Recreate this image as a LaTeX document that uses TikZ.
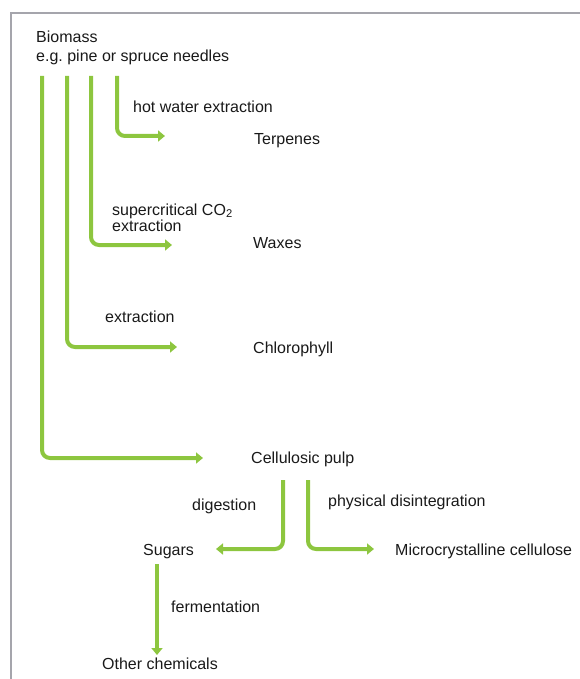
\documentclass[tikz,border=0pt]{standalone}
\usepackage{fontspec}
\setmainfont{Liberation Sans}
\usetikzlibrary{arrows.meta}
\definecolor{leaf}{RGB}{141,198,63}
\definecolor{rule}{RGB}{165,165,172}
\frenchspacing
\begin{document}
\begin{tikzpicture}[x=1pt, y=-1pt,
        lbl/.style={anchor=base west, inner sep=0, text=black!90, font=\fontsize{16}{19}\selectfont},
        flow/.style={leaf, line width=4pt, rounded corners=8pt, -{Triangle[length=7pt, width=11pt]}}]
    \useasboundingbox (0,0) rectangle (580,679);
    \draw[rule, line width=1.5pt] (11,679) -- (11,13) -- (580,13);
    % products
    \node[lbl, anchor=north west, align=left] (bio) at (36,30.5) {Biomass\\e.g. pine or spruce needles};
    \node[lbl] (terp) at (254,145) {Terpenes};
    \node[lbl] (wax) at (253,248) {Waxes};
    \node[lbl] (chl) at (253,353) {Chlorophyll};
    \node[lbl] (pulp) at (251,463) {Cellulosic pulp};
    \node[lbl] (sug) at (143,555) {Sugars};
    \node[lbl] (mcc) at (395,555) {Microcrystalline cellulose};
    \node[lbl] (chem) at (102,669) {Other chemicals};
    % processes
    \node[lbl] (hotw) at (133,113) {hot water extraction};
    \node[lbl, anchor=north west, align=left, font=\fontsize{16}{16.7}\selectfont] (sco) at (112,203.5) {supercritical CO\textsubscript{2}\\extraction};
    \node[lbl] (extr) at (105,322) {extraction};
    \node[lbl] (dig) at (192,510) {digestion};
    \node[lbl] (phys) at (328,506) {physical disintegration};
    \node[lbl] (ferm) at (171,612) {fermentation};
    % arrows out of the biomass
    \coordinate (terp-a) at (117,76); \coordinate (terp-b) at (165,136);
    \coordinate (wax-a) at (91,76);   \coordinate (wax-b) at (172,245);
    \coordinate (chl-a) at (67,76);   \coordinate (chl-b) at (177,347);
    \coordinate (pulp-a) at (42,76);  \coordinate (pulp-b) at (203,458);
    \foreach \n in {terp,wax,chl,pulp}
        \draw[flow] (\n-a) |- (\n-b);
    % arrows out of the pulp
    \coordinate (dig-a) at (283,480);  \coordinate (dig-b) at (216,549);
    \coordinate (phys-a) at (308,480); \coordinate (phys-b) at (374,549);
    \coordinate (ferm-a) at (157,564); \coordinate (ferm-b) at (157,655);
    \draw[flow] (dig-a) |- (dig-b);
    \draw[flow] (phys-a) |- (phys-b);
    \draw[flow] (ferm-a) -- (ferm-b);
\end{tikzpicture}
\end{document}
